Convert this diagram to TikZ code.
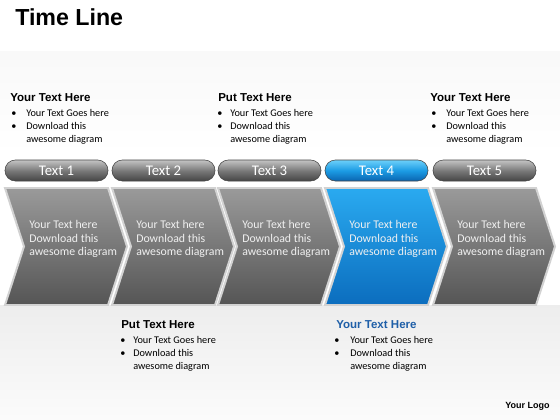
\documentclass[tikz,border=0pt]{standalone}
\usepackage{fontspec}
\setmainfont{Carlito}
\newfontfamily\headfont{Liberation Sans}
\usetikzlibrary{positioning}

\definecolor{tlgraytop}{HTML}{9A9A9A}
\definecolor{tlgraybot}{HTML}{555555}
\definecolor{tlbluetop}{HTML}{2AAAF0}
\definecolor{tlbluebot}{HTML}{0B6DBE}
\definecolor{tlpilltop}{HTML}{C4C4C4}
\definecolor{tlpillmid}{HTML}{7A7A7A}
\definecolor{tlpillbot}{HTML}{454545}
\definecolor{tlpbluetop}{HTML}{6CD0FA}
\definecolor{tlpbluemid}{HTML}{1C9CE4}
\definecolor{tlpbluebot}{HTML}{0A64B0}
\definecolor{tlheadblue}{HTML}{1F5FA8}

\newdimen\tlpx \tlpx=0.25mm

\tikzset{
  title/.style={font=\headfont\bfseries\fontsize{16.5}{18}\selectfont, anchor=base west, inner sep=0pt},
  head/.style={font=\headfont\bfseries\fontsize{8.2}{10}\selectfont, anchor=base west, inner sep=0pt},
  items/.style={font=\fontsize{7.3}{9.1}\selectfont, anchor=north west, inner sep=0pt, align=left},
  pill/.style={minimum width=25.75mm, minimum height=5.25mm, rounded corners=2.6mm, draw=gray!55!black,
    text=white, font=\fontsize{10.5}{12}\selectfont, inner sep=0pt},
  chev/.style={draw=gray!35, line width=1.4pt},
  chevtext/.style={anchor=west, align=left, inner sep=0pt, text=white!88!gray,
    font=\fontsize{8.4}{9.6}\selectfont},
  logo/.style={font=\headfont\bfseries\fontsize{6.4}{8}\selectfont, anchor=base west, inner sep=0pt}
}

\begin{document}
\begin{tikzpicture}[x=0.25mm, y=-0.25mm]
  \useasboundingbox (0,0) rectangle (560,420);
  % background
  \fill [white] (0,0) rectangle (560,420);
  \shade [top color=gray!5, bottom color=white] (0,52) rectangle (560,155);
  \shade [top color=gray!14, bottom color=gray!3] (0,305) rectangle (560,420);

  \node [title] (title) at (15,26) {Time Line};

  % pills and chevrons
  \foreach \cx/\ctop/\cbot/\ptop/\pmid/\pbot [count=\k] in
    {5/tlgraytop/tlgraybot/tlpilltop/tlpillmid/tlpillbot,
     112/tlgraytop/tlgraybot/tlpilltop/tlpillmid/tlpillbot,
     218/tlgraytop/tlgraybot/tlpilltop/tlpillmid/tlpillbot,
     325/tlbluetop/tlbluebot/tlpbluetop/tlpbluemid/tlpbluebot,
     433/tlgraytop/tlgraybot/tlpilltop/tlpillmid/tlpillbot}
  {
    \shade [chev, top color=\ctop, bottom color=\cbot]
      (\cx,188) -- ++(103,0) -- ++(19,58.5) -- ++(-19,58.5) -- ++(-103,0) -- ++(19,-58.5) -- cycle;
    \node [pill, top color=\ptop, bottom color=\pbot, middle color=\pmid] (pill\k) at (\cx+51.5,170.5) {Text \k};
    \node [chevtext] (body\k) at (\cx+24,239) {Your Text here\\Download this\\awesome diagram};
  }

  % text blocks
  \foreach \hx/\hy/\htext/\hcol/\bx/\ind [count=\k] in
    {10/101/Your Text Here/black/11/15,
     218/101/Put Text Here/black/217/13,
     430/101/Your Text Here/black/431/15,
     121/328/Put Text Here/black/120/13,
     336/328/Your Text Here/tlheadblue/334/16}
  {
    \node [head, text=\hcol] (head\k) at (\hx,\hy) {\htext};
    \node [items] (items\k) at (\bx,\hy+8.5)
      {\makebox[\ind\tlpx][l]{\textbullet}Your Text Goes here\\
       \makebox[\ind\tlpx][l]{\textbullet}Download this\\
       \hspace*{\ind\tlpx}awesome diagram};
  }

  \node [logo] (logo) at (505,408) {Your Logo};
\end{tikzpicture}
\end{document}
